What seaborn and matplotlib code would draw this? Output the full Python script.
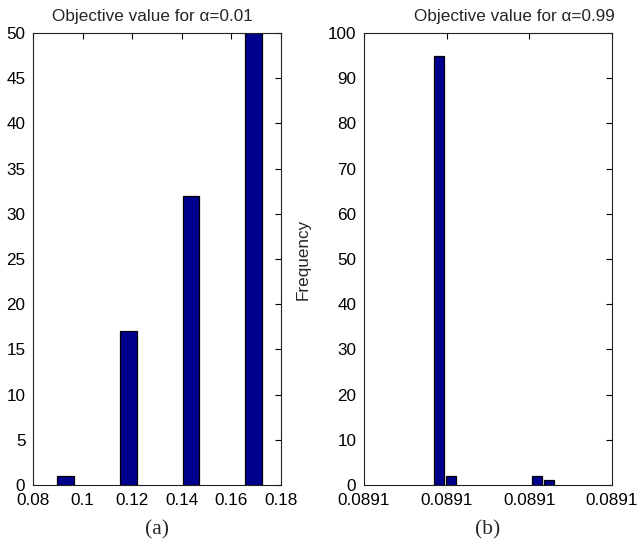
import matplotlib
matplotlib.use("Agg")
import matplotlib.pyplot as plt
import seaborn as sns
import numpy as np

# ---- data ----
left_values = [0.0931, 0.1186, 0.1436, 0.1690]      # occupied bin centres, alpha=0.01
left_counts = [1, 17, 32, 50]
left_binrange = (0.0889, 0.1732)

right_values = [0.0890781, 0.0890810, 0.0891018, 0.0891048]  # alpha=0.99
right_counts = [95, 2, 2, 1]
right_binrange = (0.0890766, 0.0891063)

left_xticks = [0.08, 0.10, 0.12, 0.14, 0.16, 0.18]
left_xticklabels = ["0.08", "0.1", "0.12", "0.14", "0.16", "0.18"]
right_xticks = [0.08906, 0.08908, 0.08910, 0.08912]
right_xticklabels = ["0.0891", "0.0891", "0.0891", "0.0891"]

n_bins = 10
bar_color = "#00008F"
fs = 12.3

sns.set_style("white")
plt.rcParams["font.family"] = ["Liberation Sans", "DejaVu Sans"]
plt.rcParams["font.size"] = fs

fig = plt.figure(figsize=(6.44, 5.47), dpi=100)
ax1 = fig.add_axes([33/644, 1-485/547, 248/644, 452/547])
ax2 = fig.add_axes([364/644, 1-485/547, 248/644, 452/547])

sns.histplot(x=left_values, weights=left_counts, bins=n_bins, binrange=left_binrange,
             shrink=0.8, color=bar_color, edgecolor="black", linewidth=0.9,
             alpha=1, ax=ax1)
sns.histplot(x=right_values, weights=right_counts, bins=n_bins, binrange=right_binrange,
             shrink=0.8, color=bar_color, edgecolor="black", linewidth=0.9,
             alpha=1, ax=ax2)

# hide empty bins (no visible outline on the baseline)
for ax in (ax1, ax2):
    for p in ax.patches:
        if p.get_height() == 0:
            p.set_visible(False)

ax1.set_xlim(0.08, 0.18)
ax1.set_ylim(0, 50)
ax1.set_xticks(left_xticks)
ax1.set_xticklabels(left_xticklabels)
ax1.set_yticks(np.arange(0, 51, 5))
ax1.set_ylabel("")

ax2.set_xlim(0.08906, 0.08912)
ax2.set_ylim(0, 100)
ax2.set_xticks(right_xticks)
ax2.set_xticklabels(right_xticklabels)
ax2.set_yticks(np.arange(0, 101, 10))
ax2.set_ylabel("Frequency", fontsize=fs)
ax2.yaxis.set_label_coords(-0.215, 0.5)

for ax in (ax1, ax2):
    ax.tick_params(direction="in", top=True, right=True, length=4, width=0.8,
                   labelsize=fs, colors="black")
    ax.tick_params(axis="x", pad=6)
    ax.tick_params(axis="y", pad=5.5)
    for s in ax.spines.values():
        s.set_visible(True)
        s.set_color("#222222")
        s.set_linewidth(0.8)

ax1.set_title("Objective value for α=0.01", fontsize=fs, x=0.48, pad=9)
ax2.set_title("Objective value for α=0.99", fontsize=fs, x=0.605, pad=9)

fig.text(157/644, 1-530/547, "(a)", ha="center", va="center",
         family="Liberation Serif", fontsize=15.5)
fig.text(488/644, 1-530/547, "(b)", ha="center", va="center",
         family="Liberation Serif", fontsize=15.5)

fig.savefig("out.png", dpi=100)
